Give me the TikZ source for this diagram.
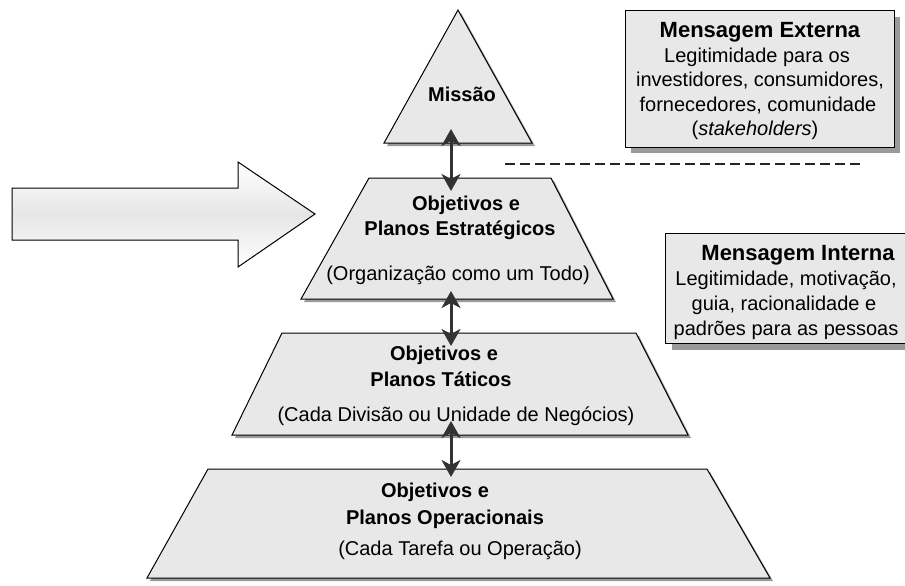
\documentclass[tikz,border=0pt]{standalone}
\usepackage{fontspec}
\setmainfont{Liberation Sans}
\usetikzlibrary{arrows.meta}

\definecolor{shapefill}{HTML}{E8E8E8}
\definecolor{shadowgray}{HTML}{9A9A9A}
\definecolor{arrowgray}{HTML}{333333}
\definecolor{arrowmid}{HTML}{E6E6E6}

\begin{document}
\begin{tikzpicture}[x=1pt,y=-1pt,
  txt/.style={inner sep=0pt, text height=14pt, text depth=4pt,
              font=\fontsize{20}{24}\selectfont},
  boldtxt/.style={txt, font=\fontsize{20}{24}\selectfont\bfseries},
  boxtitle/.style={inner sep=0pt, text height=15pt, text depth=5pt,
              font=\fontsize{22}{26}\selectfont\bfseries},
  outline/.style={draw=black, line width=1pt, fill=shapefill, line join=miter},
  shade/.style={fill=shadowgray, draw=none},
  link/.style={draw=arrowgray, line width=3pt,
    {Stealth[length=17pt,width=19pt,inset=5pt]}-{Stealth[length=17pt,width=19pt,inset=5pt]}},
  divider/.style={draw=black!85, line width=2pt, dash pattern=on 10pt off 5pt},
]
\useasboundingbox (0,0) rectangle (905,586);

% ---------- pyramid levels (shadow first, then the shape) ----------
% Missao
\fill[shade, xshift=3pt, yshift=-3pt] (458,10) -- (532,143) -- (384,143) -- cycle;
\path[outline] (458,10) -- (532,143) -- (384,143) -- cycle;
% strategic level
\fill[shade, xshift=3pt, yshift=-3pt] (369,178) -- (551,178) -- (613,299) -- (301,299) -- cycle;
\path[outline] (369,178) -- (551,178) -- (613,299) -- (301,299) -- cycle;
% tactical level
\fill[shade, xshift=3pt, yshift=-3pt] (282,333) -- (636,333) -- (688,435) -- (232,435) -- cycle;
\path[outline] (282,333) -- (636,333) -- (688,435) -- (232,435) -- cycle;
% operational level
\fill[shade, xshift=3pt, yshift=-3pt] (208,469) -- (707,469) -- (770,578) -- (147,578) -- cycle;
\path[outline] (208,469) -- (707,469) -- (770,578) -- (147,578) -- cycle;

% ---------- level texts ----------
\node[boldtxt] (missao) at (462,97) {Missão};

\node[boldtxt] (est1) at (466,205) {Objetivos e};
\node[boldtxt] (est2) at (460,230) {Planos Estratégicos};
\node[txt]     (est3) at (458,275) {(Organização como um Todo)};

\node[boldtxt] (tat1) at (444,355) {Objetivos e};
\node[boldtxt] (tat2) at (441,381) {Planos Táticos};
\node[txt]     (tat3) at (456,416) {(Cada Divisão ou Unidade de Negócios)};

\node[boldtxt] (ope1) at (435,492) {Objetivos e};
\node[boldtxt] (ope2) at (445,519) {Planos Operacionais};
\node[txt]     (ope3) at (460,550) {(Cada Tarefa ou Operação)};

% ---------- links between levels ----------
\coordinate (l1a) at (451,129);
\coordinate (l1b) at (451,191);
\coordinate (l2a) at (451,291);
\coordinate (l2b) at (451,346);
\coordinate (l3a) at (451,421);
\coordinate (l3b) at (451,477);
\draw[link] (l1a) -- (l1b);
\draw[link] (l2a) -- (l2b);
\draw[link] (l3a) -- (l3b);

% ---------- big block arrow on the left ----------
\path[draw=black, line width=1pt, line join=miter,
      top color=white, bottom color=white, middle color=arrowmid]
  (12,188) -- (238,188) -- (238,162) -- (315,214) -- (238,267) -- (238,240) -- (12,240) -- cycle;

% ---------- dashed divider ----------
\coordinate (dv1) at (505,164);
\coordinate (dv2) at (863,164);
\draw[divider] (dv1) -- (dv2);

% ---------- external message box ----------
\fill[shade] (631,17) rectangle (900,153);
\path[outline] (625,11) rectangle (894,147);
\node[boxtitle] (ext0) at (760,33)  {Mensagem Externa};
\node[txt]      (ext1) at (757,58)  {Legitimidade para os};
\node[txt]      (ext2) at (760,82)  {investidores, consumidores,};
\node[txt]      (ext3) at (758,106) {fornecedores, comunidade};
\node[txt]      (ext4) at (755,130) {(\textit{stakeholders})};

% ---------- internal message box ----------
\fill[shade] (672,240) rectangle (919,350);
\path[outline] (665,233) rectangle (912,343);
\node[boxtitle] (int0) at (798,255) {Mensagem Interna};
\node[txt]      (int1) at (786,280) {Legitimidade, motivação,};
\node[txt]      (int2) at (784,305) {guia, racionalidade e};
\node[txt]      (int3) at (786,330) {padrões para as pessoas};
\end{tikzpicture}
\end{document}
